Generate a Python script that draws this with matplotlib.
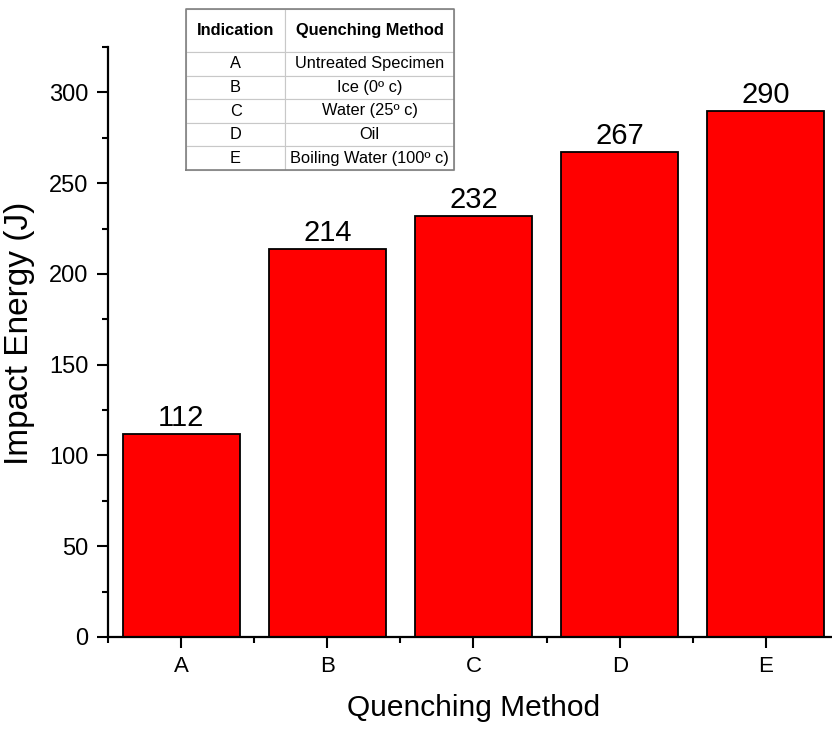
import matplotlib
matplotlib.use('Agg')
import matplotlib.pyplot as plt
from matplotlib.ticker import MultipleLocator

plt.rcParams['font.family'] = ['Liberation Sans', 'DejaVu Sans']

# Donnees
indications = ['A', 'B', 'C', 'D', 'E']
energie_impact = [112, 214, 232, 267, 290]
methodes = ['Untreated Specimen', 'Ice (0º c)', 'Water (25º c)', 'Oil',
            'Boiling Water (100º c)']
entetes = ['Indication', 'Quenching Method']

fig = plt.figure(figsize=(8.32, 7.3), dpi=100)
ax = fig.add_axes([0.1298, 0.1274, 0.8786, 0.8082])

x = list(range(len(indications)))
ax.bar(x, energie_impact, width=0.8, color='#ff0000', edgecolor='black', linewidth=1.3)
for xi, v in zip(x, energie_impact):
    ax.text(xi, v + 1, str(v), ha='center', va='bottom', fontsize=21)

ax.set_xlim(-0.5, 4.5)
ax.set_ylim(0, 325)
ax.set_xticks(x)
ax.set_xticklabels(indications)
ax.set_xticks([i + 0.5 for i in range(-1, 5)], minor=True)
ax.yaxis.set_major_locator(MultipleLocator(50))
ax.yaxis.set_minor_locator(MultipleLocator(25))
ax.tick_params(axis='both', which='major', direction='out', length=8, width=1.5)
ax.tick_params(axis='both', which='minor', direction='out', length=4, width=1.5)
ax.tick_params(axis='x', labelsize=16, pad=6)
ax.tick_params(axis='y', labelsize=17, pad=6)
ax.spines['top'].set_visible(False)
ax.spines['right'].set_visible(False)
ax.spines['left'].set_linewidth(1.6)
ax.spines['bottom'].set_linewidth(1.6)
ax.set_ylabel('Impact Energy (J)', fontsize=24)
ax.yaxis.set_label_coords(-0.1, 0.514)
ax.set_xlabel('Quenching Method', fontsize=21.5, labelpad=12)

# Tableau des indications
tab_ax = fig.add_axes([186 / 832, 1 - 170 / 730, 268 / 832, 161 / 730])
tab_ax.axis('off')
cellules = [[a, m] for a, m in zip(indications, methodes)]
tableau = tab_ax.table(cellText=cellules, colLabels=entetes, cellLoc='center',
                       colWidths=[0.37, 0.63], bbox=[0, 0, 1, 1])
tableau.auto_set_font_size(False)
hauteurs = [43 / 161] + [(1 - 43 / 161) / 5] * 5
for (r, c), cell in tableau.get_celld().items():
    cell.set_edgecolor('#c8c8c8')
    cell.set_linewidth(0.8)
    cell.set_height(hauteurs[r])
    cell.PAD = 0.02
    cell.get_text().set_fontsize(11.8)
    if r == 0:
        cell.get_text().set_fontweight('bold')
tab_ax.plot([0, 1, 1, 0, 0], [0, 0, 1, 1, 0], color='#808080', lw=1.2,
            transform=tab_ax.transAxes, clip_on=False)

fig.savefig('out.png', dpi=100)
